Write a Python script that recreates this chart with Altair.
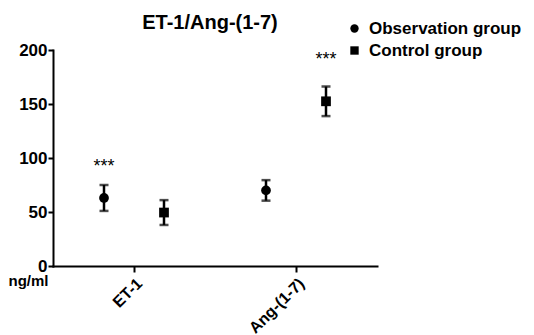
import altair as alt
import pandas as pd

categories = ["ET-1", "ET-1", "Ang-(1-7)", "Ang-(1-7)"]
groups = ["Observation group", "Control group", "Observation group", "Control group"]
means = [63.0, 49.5, 70.0, 152.5]
errors = [12.0, 11.5, 9.5, 13.7]

star_categories = ["ET-1", "Ang-(1-7)"]
star_groups = ["Observation group", "Control group"]
star_y = [97.0, 196.0]

cat_order = ["ET-1", "Ang-(1-7)"]
grp_order = ["Observation group", "Control group"]

df = pd.DataFrame({"category": categories, "group": groups, "mean": means, "err": errors})
stars = pd.DataFrame({"category": star_categories, "group": star_groups, "y": star_y, "label": ["***"] * 2})

FONT = "Liberation Sans"

x_enc = alt.X("category:N", sort=cat_order,
              scale=alt.Scale(paddingInner=0, paddingOuter=0),
              axis=alt.Axis(title=None, labelAngle=-45, labelAlign="right", labelBaseline="top",
                            labelFont=FONT, labelFontSize=16, labelFontWeight="bold", labelColor="black",
                            tickSize=6, tickWidth=2, tickColor="black", domainColor="black",
                            domainWidth=2, labelPadding=3))
xo_enc = alt.XOffset("group:N", sort=grp_order, scale=alt.Scale(paddingInner=0, paddingOuter=0.35))

y_scale = alt.Scale(domain=[0, 200], nice=False)
y_axis = alt.Axis(values=[0, 50, 100, 150, 200], title="ng/ml", titleAngle=0, titleAlign="right",
                  titleBaseline="middle", titleX=-5, titleY=230, titleFont=FONT, titleFontSize=15,
                  titleFontWeight="bold", titleColor="black",
                  labelFont=FONT, labelFontSize=17, labelFontWeight="bold", labelColor="black",
                  tickSize=5, tickWidth=2, tickColor="black", domainColor="black", domainWidth=2,
                  labelPadding=1, grid=False)

base = alt.Chart(df).transform_calculate(lo="datum.mean - datum.err", hi="datum.mean + datum.err")

rules = base.mark_rule(color="black", strokeWidth=2.5).encode(
    x=x_enc, xOffset=xo_enc,
    y=alt.Y("lo:Q", scale=y_scale, axis=y_axis), y2="hi:Q")
cap_lo = base.mark_tick(color="black", thickness=2.5, size=9).encode(
    x=x_enc, xOffset=xo_enc, y=alt.Y("lo:Q", scale=y_scale))
cap_hi = base.mark_tick(color="black", thickness=2.5, size=9).encode(
    x=x_enc, xOffset=xo_enc, y=alt.Y("hi:Q", scale=y_scale))
points = base.mark_point(filled=True, opacity=1, color="black", size=95).encode(
    x=x_enc, xOffset=xo_enc, y=alt.Y("mean:Q", scale=y_scale),
    shape=alt.Shape("group:N", sort=grp_order,
                    scale=alt.Scale(domain=grp_order, range=["circle", "square"]),
                    legend=alt.Legend(title=None, orient="none", legendX=293, legendY=-30,
                                      labelFont=FONT, labelFontSize=17, labelFontWeight="bold",
                                      labelColor="black", symbolFillColor="black",
                                      symbolStrokeColor="black", symbolSize=70, rowPadding=4,
                                      labelOffset=6)))
star_text = alt.Chart(stars).mark_text(font=FONT, fontSize=18, color="black", baseline="middle", dy=6).encode(
    x=x_enc, xOffset=xo_enc, y=alt.Y("y:Q", scale=y_scale), text="label:N")

chart = alt.layer(rules, cap_lo, cap_hi, points, star_text).properties(
    width=324, height=216,
    title=alt.TitleParams("ET-1/Ang-(1-7)", font=FONT, fontSize=20, fontWeight="bold", color="black",
                          anchor="middle", offset=16, dx=-5, dy=29),
    autosize=alt.AutoSizeParams(type="none"),
    padding={"left": 45, "top": 42, "right": 149, "bottom": 69},
).configure_view(stroke=None).configure_axis(domainCap="square")

chart.save("out.html", embed_options={"renderer": "svg", "actions": False})
